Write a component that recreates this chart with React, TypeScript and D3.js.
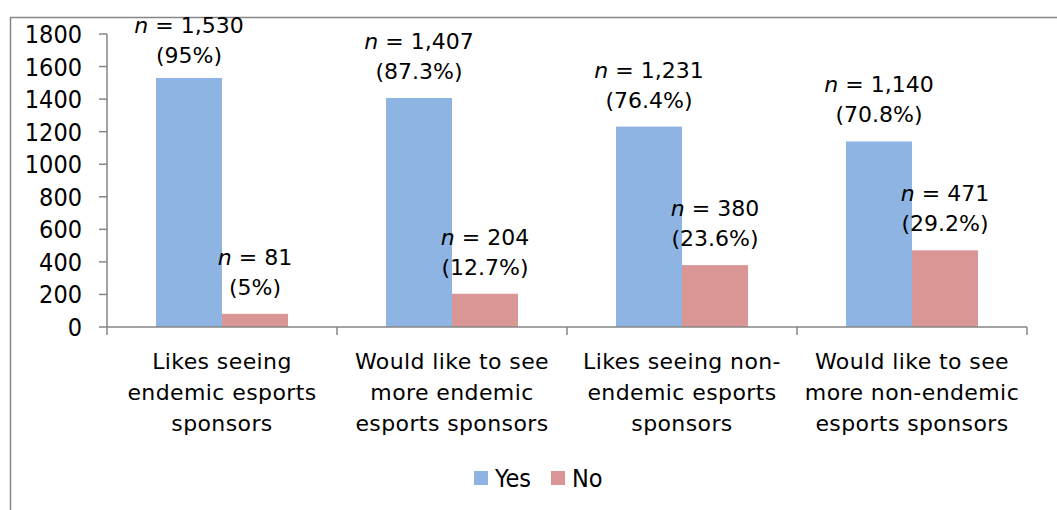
import React from "react";
import * as d3 from "d3";

const categories = [
  ["Likes seeing", "endemic esports", "sponsors"],
  ["Would like to see", "more endemic", "esports sponsors"],
  ["Likes seeing non-", "endemic esports", "sponsors"],
  ["Would like to see", "more non-endemic", "esports sponsors"],
];
const seriesNames = ["Yes", "No"];
const yesValues = [1530, 1407, 1231, 1140];
const noValues = [81, 204, 380, 471];
const yesPct = ["95%", "87.3%", "76.4%", "70.8%"];
const noPct = ["5%", "12.7%", "23.6%", "29.2%"];
const yTicks = [0, 200, 400, 600, 800, 1000, 1200, 1400, 1600, 1800];

const colors = ["#8EB4E3", "#D99694"];
const axisColor = "#868686";
const font = "'DejaVu Sans', sans-serif";
const condensed = "'DejaVu Sans Condensed', 'DejaVu Sans', sans-serif";

export default function App() {
  const width = 1057;
  const height = 510;
  const x0 = 107;
  const x1 = 1027;
  const yZero = 327;
  const yTop = 34;

  const y = d3.scaleLinear().domain([0, 1800]).range([yZero, yTop]);
  const keys = categories.map((_, i) => String(i));
  const xBand = d3.scaleBand().domain(keys).range([x0, x1]).padding(0);
  const bw = xBand.bandwidth();
  const xInner = d3
    .scaleBand()
    .domain(seriesNames)
    .range([bw * 0.213, bw * 0.787])
    .padding(0);

  const values = [yesValues, noValues];
  const pcts = [yesPct, noPct];
  const fmt = d3.format(",");

  return (
    <svg
      width={width}
      height={height}
      style={{ position: "absolute", left: 0, top: 0, background: "#fff" }}
    >
      {/* chart frame */}
      <rect
        x={10.5}
        y={17.5}
        width={1100}
        height={600}
        fill="#fff"
        stroke={axisColor}
        strokeWidth={1.5}
      />

      {/* y axis */}
      <line x1={x0} x2={x0} y1={yTop} y2={yZero} stroke={axisColor} strokeWidth={1.5} />
      {yTicks.map((t) => (
        <g key={t}>
          <line x1={x0 - 8} x2={x0} y1={y(t)} y2={y(t)} stroke={axisColor} strokeWidth={1.5} />
          <text
            x={82}
            y={y(t)}
            dy="0.36em"
            textAnchor="end"
            fontFamily={condensed}
            fontSize={25}
            fill="#000"
          >
            {t}
          </text>
        </g>
      ))}

      {/* bars */}
      {keys.map((k, i) => (
        <g key={k} transform={`translate(${xBand(k)},0)`}>
          {seriesNames.map((s, j) => {
            const v = values[j][i];
            const bx = xInner(s)!;
            return (
              <rect
                key={s}
                x={bx}
                y={y(v)}
                width={xInner.bandwidth()}
                height={yZero - y(v)}
                fill={colors[j]}
              />
            );
          })}
        </g>
      ))}

      {/* x axis */}
      <line x1={x0} x2={x1} y1={yZero} y2={yZero} stroke={axisColor} strokeWidth={1.5} />
      {[...keys.map((k) => xBand(k)!), x1].map((tx, i) => (
        <line key={i} x1={tx} x2={tx} y1={yZero} y2={yZero + 8} stroke={axisColor} strokeWidth={1.5} />
      ))}

      {/* data labels: count above percentage, kept inside the chart frame */}
      {keys.map((k, i) =>
        seriesNames.map((s, j) => {
          const v = values[j][i];
          const cx = xBand(k)! + xInner(s)! + xInner.bandwidth() / 2;
          const line1 = Math.max(y(v) - 49, 33);
          return (
            <g key={`${k}-${s}`} fontFamily={font} fontSize={22} fill="#000" textAnchor="middle">
              <text x={cx} y={line1}>
                <tspan fontStyle="italic">n</tspan>
                {` = ${fmt(v)}`}
              </text>
              <text x={cx} y={line1 + 30}>{`(${pcts[j][i]})`}</text>
            </g>
          );
        })
      )}

      {/* category labels */}
      {keys.map((k, i) => (
        <text
          key={k}
          x={xBand(k)! + bw / 2}
          y={369}
          textAnchor="middle"
          fontFamily={font}
          fontSize={22}
          letterSpacing={0.4}
          fill="#000"
        >
          {categories[i].map((line, li) => (
            <tspan key={li} x={xBand(k)! + bw / 2} y={369 + li * 31}>
              {line}
            </tspan>
          ))}
        </text>
      ))}

      {/* legend */}
      {seriesNames.map((s, j) => {
        const lx = j === 0 ? 474 : 551;
        return (
          <g key={s}>
            <rect x={lx} y={471} width={14} height={14} fill={colors[j]} />
            <text x={lx + 21} y={487} fontFamily={condensed} fontSize={25} fill="#000">
              {s}
            </text>
          </g>
        );
      })}
    </svg>
  );
}
